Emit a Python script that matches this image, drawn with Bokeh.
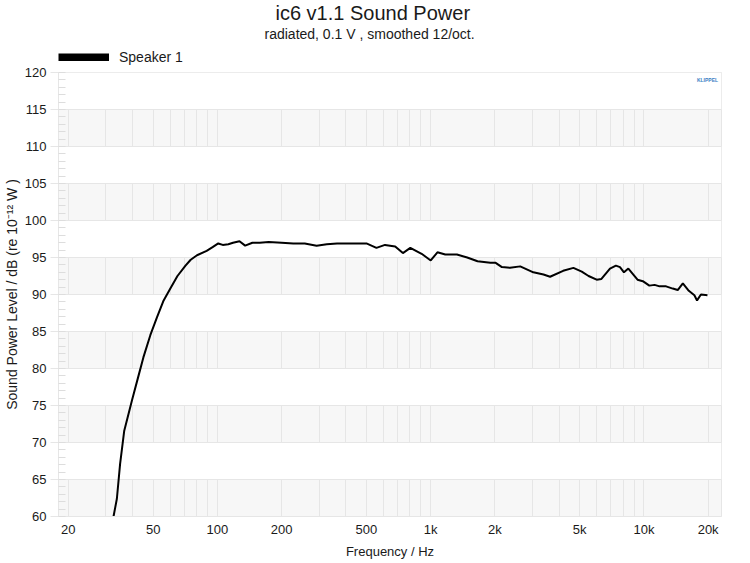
from bokeh.plotting import figure
from bokeh.layouts import column
from bokeh.models import (FixedTicker, SingleIntervalTicker, Label, Legend, LegendItem,
                          ColumnDataSource, Title, Range1d)
from bokeh.embed import file_html
from bokeh.resources import INLINE

# ---- data ----
freq_hz = [32.0, 32.6, 33.8, 35.0, 36.6, 39.8, 42.5, 45.0, 48.5, 52.1, 56.0, 60.2, 65.0, 70.9,
           75.0, 80.3, 89.1, 95.0, 101, 106, 112.6, 118.4, 127, 135, 146, 158, 174, 200,
           227, 257, 292, 326, 364, 432, 500, 557, 611, 682, 741, 803, 907, 1001, 1076,
           1171, 1328, 1484, 1659, 1905, 2010, 2158, 2356, 2630, 3030, 3382, 3630, 4180,
           4670, 5110, 5500, 6000, 6320, 6930, 7390, 7720, 8060, 8450, 9330, 9880, 10600,
           11220, 11840, 12700, 13650, 14400, 15220, 16230, 17240, 17740, 18500, 19850]
spl_db = [58.5, 60.0, 62.4, 67.1, 71.6, 75.7, 78.8, 81.5, 84.5, 86.9, 89.2, 90.8, 92.5, 93.9,
          94.7, 95.3, 95.9, 96.4, 96.9, 96.7, 96.8, 97.0, 97.2, 96.6, 97.0, 97.0, 97.1, 97.0,
          96.9, 96.9, 96.6, 96.8, 96.9, 96.9, 96.9, 96.3, 96.7, 96.5, 95.6, 96.3, 95.5, 94.6,
          95.7, 95.4, 95.4, 95.0, 94.5, 94.3, 94.3, 93.7, 93.6, 93.8, 93.0, 92.7, 92.4, 93.2,
          93.6, 93.1, 92.5, 92.0, 92.1, 93.5, 93.9, 93.7, 93.0, 93.5, 92.0, 91.8, 91.2,
          91.3, 91.1, 91.1, 90.8, 90.6, 91.5, 90.5, 89.9, 89.2, 90.0, 89.9]

x_major_ticks = [20, 50, 100, 200, 500, 1000, 2000, 5000, 10000, 20000]
x_tick_labels = ["20", "50", "100", "200", "500", "1k", "2k", "5k", "10k", "20k"]
x_minor_ticks = [30, 40, 60, 70, 80, 90, 300, 400, 600, 700, 800, 900,
                 3000, 4000, 6000, 7000, 8000, 9000]

title_text = "ic6 v1.1 Sound Power"
subtitle_text = "radiated,  0.1 V , smoothed 12/oct."
series_name = "Speaker 1"

FONT = "Liberation Sans"
GRID = "#e6e6e6"
BAND = "#f7f7f7"
TXT = "#1a1a1a"

src = ColumnDataSource(dict(f=freq_hz, db=spl_db))

# ---------- header figure: titles + legend ----------
top = figure(width=750, height=65, x_range=Range1d(0, 1), y_range=Range1d(0, 1),
             output_backend="svg", toolbar_location=None,
             x_axis_location=None, y_axis_location=None,
             min_border_left=58, min_border_right=29, min_border_top=3, min_border_bottom=0)
top.grid.visible = False
top.outline_line_color = None
top.background_fill_color = "white"
top.border_fill_color = "white"
# same series, out of this header's view; used only for its legend swatch
key_r = top.line("f", "db", source=src, line_color="black", line_width=8, line_cap="butt")
top.add_layout(Title(text=subtitle_text, align="left", offset=206, standoff=0,
                     vertical_align="middle", text_font=FONT, text_font_size="14px",
                     text_font_style="normal", text_color=TXT), "above")
top.add_layout(Title(text=title_text, align="left", offset=217, standoff=0,
                     vertical_align="middle", text_font=FONT, text_font_size="20px",
                     text_font_style="normal", text_color=TXT), "above")
legend = Legend(items=[LegendItem(label=series_name, renderers=[key_r])],
                location=(0, 0), orientation="horizontal",
                glyph_width=51, glyph_height=8, label_standoff=10, padding=0, margin=0,
                border_line_color=None, background_fill_alpha=0,
                label_text_font=FONT, label_text_font_size="14px", label_text_color=TXT,
                label_height=15)
top.add_layout(legend)

# ---------- main figure ----------
p = figure(width=750, height=498, x_axis_type="log", x_range=(18, 23100), y_range=(60, 120),
           output_backend="svg", toolbar_location=None,
           min_border_left=58, min_border_right=29, min_border_top=7, min_border_bottom=47)
p.background_fill_color = BAND
p.border_fill_color = "white"
p.outline_line_color = GRID

line_r = p.line("f", "db", source=src, line_color="black", line_width=2)

# x axis
p.xaxis.ticker = FixedTicker(ticks=x_major_ticks, minor_ticks=x_minor_ticks)
p.xaxis.major_label_overrides = {t: l for t, l in zip(x_major_ticks, x_tick_labels)}
p.xaxis.axis_label = "Frequency / Hz"
p.xaxis.axis_line_color = GRID
p.xaxis.major_tick_out = 0
p.xaxis.major_tick_in = 0
p.xaxis.minor_tick_out = 0
p.xaxis.minor_tick_in = 0
p.xaxis.major_label_standoff = 5
p.xaxis.axis_label_standoff = 4
p.xgrid.grid_line_color = GRID
p.xgrid.minor_grid_line_color = GRID

# y axis
p.yaxis.ticker = SingleIntervalTicker(interval=5, num_minor_ticks=5)
p.yaxis.axis_label = "Sound Power Level / dB (re 10\u207b\u00b9\u00b2 W )"
p.yaxis.axis_line_color = GRID
p.yaxis.major_tick_out = 8
p.yaxis.major_tick_in = 0
p.yaxis.major_tick_line_color = GRID
p.yaxis.minor_tick_in = 7
p.yaxis.minor_tick_out = 0
p.yaxis.minor_tick_line_color = "#dddddd"
p.yaxis.major_label_standoff = 4
p.yaxis.axis_label_standoff = 2
p.ygrid.grid_line_color = GRID
p.ygrid.band_fill_color = "white"
p.ygrid.band_fill_alpha = 1.0

for ax in (p.xaxis[0], p.yaxis[0]):
    ax.major_label_text_font = FONT
    ax.major_label_text_font_size = "13px"
    ax.major_label_text_color = TXT
    ax.axis_label_text_font = FONT
    ax.axis_label_text_font_size = "13px"
    ax.axis_label_text_font_style = "normal"
    ax.axis_label_text_color = TXT
p.yaxis.axis_label_text_font_size = "14px"

# logo text inside frame
p.add_layout(Label(x=649, y=437, x_units="screen", y_units="screen", text="KLIPPEL",
                   text_font=FONT, text_font_size="5px", text_color="#3b7fc4",
                   text_font_style="bold", text_align="center", text_baseline="middle"))

layout = column(top, p, spacing=0)
open("out.html", "w").write(file_html(layout, INLINE))
